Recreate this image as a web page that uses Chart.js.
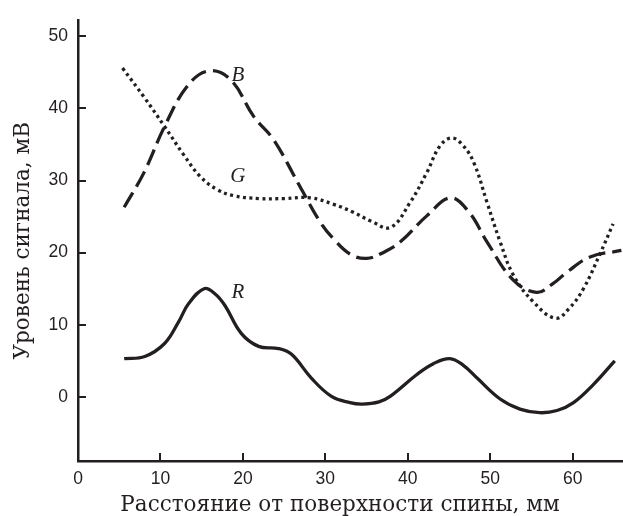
<!DOCTYPE html>
<html>
<head>
<meta charset="utf-8">
<script src="https://cdn.jsdelivr.net/npm/chart.js@4"></script>
<style>
  html, body { margin: 0; padding: 0; background: #fff; }
  #wrap { width: 623px; height: 516px; position: relative; }
</style>
</head>
<body>
<div id="wrap"><canvas id="chart"></canvas></div>
<script>
// distance from back surface, mm / signal level, mV
var bX = [5.6, 8, 10.5, 13.2, 15.8, 18.5, 21.3, 23.7, 27, 29.4, 31, 33, 35, 37, 39.1, 42.3, 45.2, 47.5, 49.6, 52.8, 55.6, 57.6, 59.3, 62.1, 65.9];
var bY = [26.3, 31.1, 37.5, 43, 45.2, 44, 38.9, 35.7, 29, 24.2, 21.9, 19.8, 19.2, 20, 21.5, 25.1, 27.6, 25.5, 21.5, 16.2, 14.5, 15.7, 17.3, 19.4, 20.3];

var gX = [5.4, 8, 10.5, 12.8, 14.8, 16.8, 18.9, 22, 25, 28.2, 31, 33.4, 35.5, 37.9, 40.3, 42.3, 43.9, 45.3, 46.6, 48, 49.6, 51.2, 52.8, 55.2, 57.9, 59.6, 61.3, 63.3, 64.9];
var gY = [45.6, 41.6, 37.5, 33.6, 30.6, 28.8, 27.9, 27.5, 27.5, 27.6, 26.7, 25.6, 24.4, 23.5, 27, 31.1, 34.8, 35.9, 35, 32.5, 27, 21.5, 16.9, 13.2, 10.9, 12.3, 15, 19.8, 24];

var rX = [5.6, 8.1, 10.5, 12.2, 13.4, 15.3, 16.6, 17.8, 19.8, 21.9, 24.3, 25.9, 28.3, 30.7, 33, 34.5, 36.5, 37.9, 41.1, 43.1, 45.1, 46.7, 48.4, 51.2, 53.6, 56, 58.1, 60.1, 62.5, 65.1];
var rY = [5.3, 5.6, 7.4, 10.4, 12.9, 15.0, 14.3, 12.7, 8.8, 7.0, 6.7, 5.9, 2.6, 0.1, -0.8, -1.0, -0.7, 0.1, 3.1, 4.6, 5.3, 4.4, 2.6, -0.3, -1.7, -2.2, -1.9, -0.8, 1.7, 5.0];

var xTicks = [0, 10, 20, 30, 40, 50, 60];
var yTicks = [0, 10, 20, 30, 40, 50];

// curve names, placed in data coordinates
var curveNames = ['B', 'G', 'R'];
var nameX = [19.4, 19.4, 19.4];
var nameY = [44.6, 30.6, 14.5];

var INK = '#231f20';

function pts(xs, ys) {
  return xs.map(function (x, i) { return { x: x, y: ys[i] }; });
}

function line(label, xs, ys, dash) {
  return {
    label: label, data: pts(xs, ys),
    borderColor: INK, borderWidth: 3.3, borderDash: dash,
    borderCapStyle: 'butt', pointRadius: 0,
    tension: 0.4, fill: false
  };
}

// inward tick marks + axis titles + curve names
var decor = {
  id: 'decor',
  afterDraw: function (chart) {
    var c = chart.ctx, a = chart.chartArea;
    var xs = chart.scales.x, ys = chart.scales.y;
    c.save();
    c.strokeStyle = INK; c.lineWidth = 2;
    c.beginPath();
    xTicks.forEach(function (v) {
      if (v === 0) return;
      var px = Math.round(xs.getPixelForValue(v));
      c.moveTo(px, a.bottom); c.lineTo(px, a.bottom - 8);
    });
    yTicks.forEach(function (v) {
      var py = Math.round(ys.getPixelForValue(v));
      c.moveTo(a.left, py); c.lineTo(a.left + 8, py);
    });
    c.stroke();

    c.fillStyle = INK;
    c.font = 'italic 21px "Liberation Serif", serif';
    c.textAlign = 'center'; c.textBaseline = 'middle';
    curveNames.forEach(function (n, i) {
      c.fillText(n, xs.getPixelForValue(nameX[i]), ys.getPixelForValue(nameY[i]));
    });

    c.font = '21.5px "DejaVu Serif", serif';
    c.fillText('Расстояние от поверхности спины, мм', 340, 505);
    c.translate(23, (a.top + a.bottom) / 2);
    c.rotate(-Math.PI / 2);
    c.fillText('Уровень сигнала, мВ', 0, 0);
    c.restore();
  }
};

new Chart(document.getElementById('chart').getContext('2d'), {
  type: 'line',
  data: {
    datasets: [
      line('B', bX, bY, [17, 7]),
      line('G', gX, gY, [3, 3.5]),
      line('R', rX, rY, [])
    ]
  },
  options: {
    responsive: true, maintainAspectRatio: false, animation: false,
    layout: { padding: { top: 16, right: 0, left: 0, bottom: 0 } },
    plugins: { legend: { display: false }, tooltip: { enabled: false } },
    scales: {
      x: {
        type: 'linear', min: 0, max: 66.1,
        afterBuildTicks: function (s) { s.ticks = xTicks.map(function (v) { return { value: v }; }); },
        afterFit: function (s) { s.height = 55; },
        grid: { display: true, drawOnChartArea: false, drawTicks: false },
        border: { display: true, color: INK, width: 2.5 },
        ticks: { color: INK, padding: 8, maxRotation: 0, font: { family: '"Liberation Sans", Arial, sans-serif', size: 17.5 } }
      },
      y: {
        type: 'linear', min: -8.9, max: 52.2,
        afterBuildTicks: function (s) { s.ticks = yTicks.map(function (v) { return { value: v }; }); },
        afterFit: function (s) { s.width = 78; },
        grid: { display: true, drawOnChartArea: false, drawTicks: false },
        border: { display: true, color: INK, width: 2.5 },
        ticks: { color: INK, padding: 10, font: { family: '"Liberation Sans", Arial, sans-serif', size: 17.5 } }
      }
    }
  },
  plugins: [decor]
});
</script>
</body>
</html>
